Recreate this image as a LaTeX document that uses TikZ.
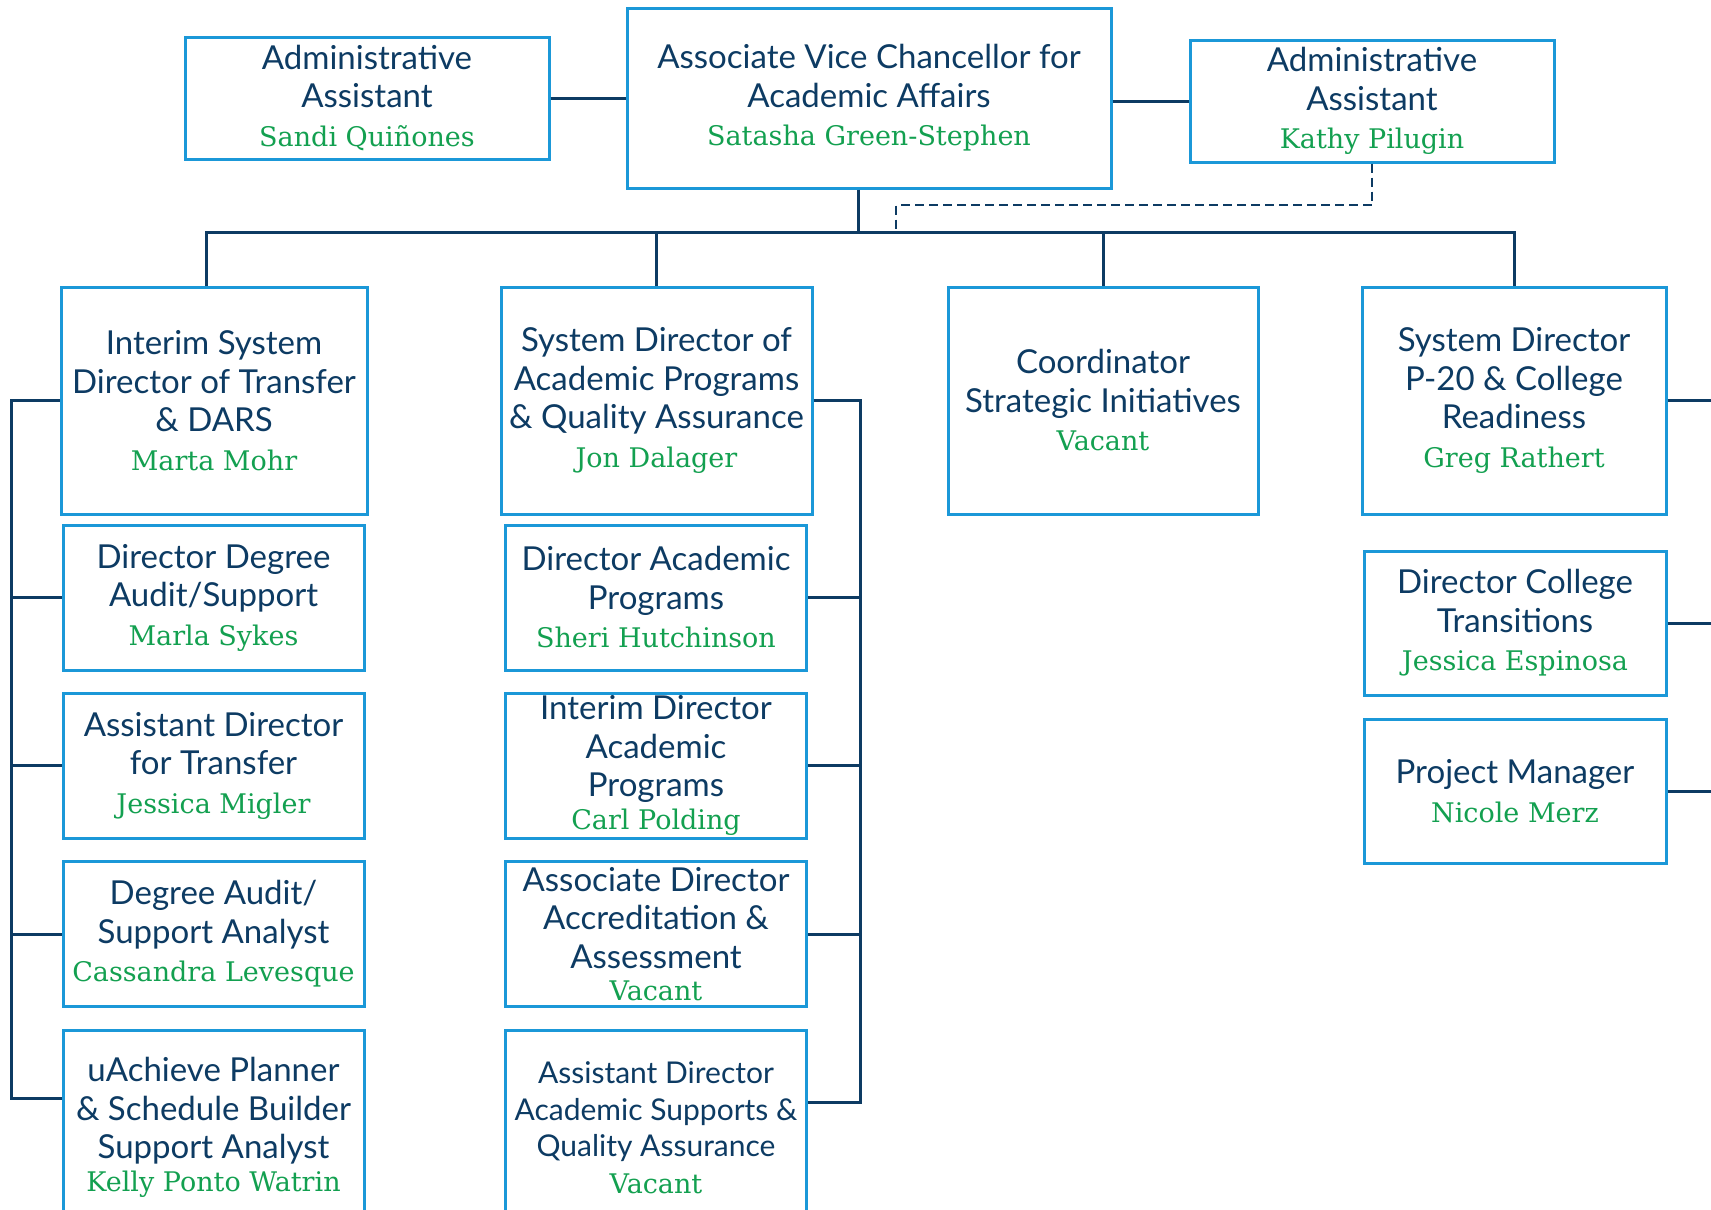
\documentclass[tikz,border=0pt]{standalone}
\usepackage{fontspec}
\newfontfamily\ttlfont{Lato}
\newfontfamily\nmfont{DejaVu Serif}
\definecolor{unavy}{HTML}{0D3B63}
\definecolor{ublue}{HTML}{1B98D8}
\definecolor{ugreen}{HTML}{13A050}
\newcommand{\nm}[1]{{\nmfont\fontsize{27}{36}\selectfont\color{ugreen}#1}}

\begin{document}
\begin{tikzpicture}[
    x=1pt, y=-1pt,
    box/.style={draw=ublue, line width=3pt, align=center, text=unavy, inner sep=0pt,
      font={\ttlfont\fontsize{33}{38.5}\selectfont},
      execute at begin node={\rule{0pt}{32pt}}},
    top/.style={box, minimum width=364pt, minimum height=122pt},
    head/.style={box, minimum width=306pt, minimum height=227pt},
    sub/.style={box, minimum width=301pt, minimum height=145pt},
    link/.style={draw=unavy, line width=3pt},
    dashlink/.style={link, line width=2.5pt, dash pattern=on 9pt off 5pt}
    ]
  \path[fill=white, use as bounding box] (0,0) rectangle (1711,1210);
  \clip (0,0) rectangle (1711,1210);

  % top row
  \node[top] (aal) at (367,98) {Administrative\\Assistant\\\nm{Sandi Quiñones}};
  \node[box, minimum width=484pt, minimum height=180pt] (avc) at (869,98)
    {Associate Vice Chancellor for\\Academic Affairs\\\nm{Satasha Green-Stephen}};
  \node[top] (aar) at (1372,101) {Administrative\\Assistant\\\nm{Kathy Pilugin}};

  % heads
  \node[head] (h1) at (214,400.5) {Interim System\\Director of Transfer\\\& DARS\\\nm{Marta Mohr}};
  \node[head, minimum width=311pt] (h2) at (656.5,400.5)
    {System Director of\\Academic Programs\\\& Quality Assurance\\\nm{Jon Dalager}};
  \node[head, minimum width=310pt] (h3) at (1103,400.5) {Coordinator\\Strategic Initiatives\\\nm{Vacant}};
  \node[head, minimum width=304pt] (h4) at (1514,400.5)
    {System Director\\P-20 \& College\\Readiness\\\nm{Greg Rathert}};

  % transfer
  \node[sub] (s11) at (213.5,597.5) {Director Degree\\Audit/Support\\\nm{Marla Sykes}};
  \node[sub] (s12) at (213.5,765.5) {Assistant Director\\for Transfer\\\nm{Jessica Migler}};
  \node[sub] (s13) at (213.5,934) {Degree Audit/\\Support Analyst\\\nm{Cassandra Levesque}};
  \node[sub, minimum height=195pt] (s14) at (213.5,1127.5)
    {uAchieve Planner\\\& Schedule Builder\\Support Analyst\\[-6pt]\nm{Kelly Ponto Watrin}};

  % academic programs
  \node[sub] (s21) at (656,597.5) {Director Academic\\Programs\\\nm{Sheri Hutchinson}};
  \node[sub] (s22) at (656,765.5) {Interim Director\\Academic\\Programs\\[-6pt]\nm{Carl Polding}};
  \node[sub] (s23) at (656,934) {Associate Director\\Accreditation \&\\Assessment\\[-6pt]\nm{Vacant}};
  \node[sub, minimum height=195pt, font={\ttlfont\fontsize{30}{36.5}\selectfont}] (s24) at (656,1127.5)
    {Assistant Director\\Academic Supports \&\\Quality Assurance\\\nm{Vacant}};

  % p-20
  \node[sub, minimum width=302pt, minimum height=144pt] (s41) at (1515,623)
    {Director College\\Transitions\\\nm{Jessica Espinosa}};
  \node[sub, minimum width=302pt, minimum height=144pt] (s42) at (1515,791)
    {Project Manager\\\nm{Nicole Merz}};

  % connectors
  \coordinate (bus) at (858,232);
  \coordinate (dk) at (896,205);
  \coordinate (lb) at (11,0);
  \coordinate (rb) at (860,0);
  \coordinate (re) at (1711,0);

  \draw[link] (aal.east) -- (aal.east -| avc.west);
  \draw[link] (avc.east |- aar.west) -- (aar.west);
  \draw[link] ([xshift=-11pt]avc.south) -- ([xshift=-11pt]avc.south |- bus);
  \draw[link] ([xshift=-8pt]h1.north) |- (h4.north |- bus) -- (h4.north);
  \draw[link] (h2.north) -- (h2.north |- bus);
  \draw[link] (h3.north) -- (h3.north |- bus);
  \draw[dashlink] (aar.south) |- (dk) -- (dk |- bus);

  \draw[link] (h1.west) -- (h1.west -| lb) |- ([yshift=29pt]s14.west);
  \foreach \n in {s11,s12,s13}
    \draw[link] (\n.west) -- (\n.west -| lb);

  \draw[link] (h2.east) -- (h2.east -| rb) |- ([yshift=25pt]s24.east);
  \foreach \n in {s21,s22,s23}
    \draw[link] (\n.east) -- (\n.east -| rb);

  \foreach \n in {h4,s41,s42}
    \draw[link] (\n.east) -- (\n.east -| re);
\end{tikzpicture}
\end{document}
